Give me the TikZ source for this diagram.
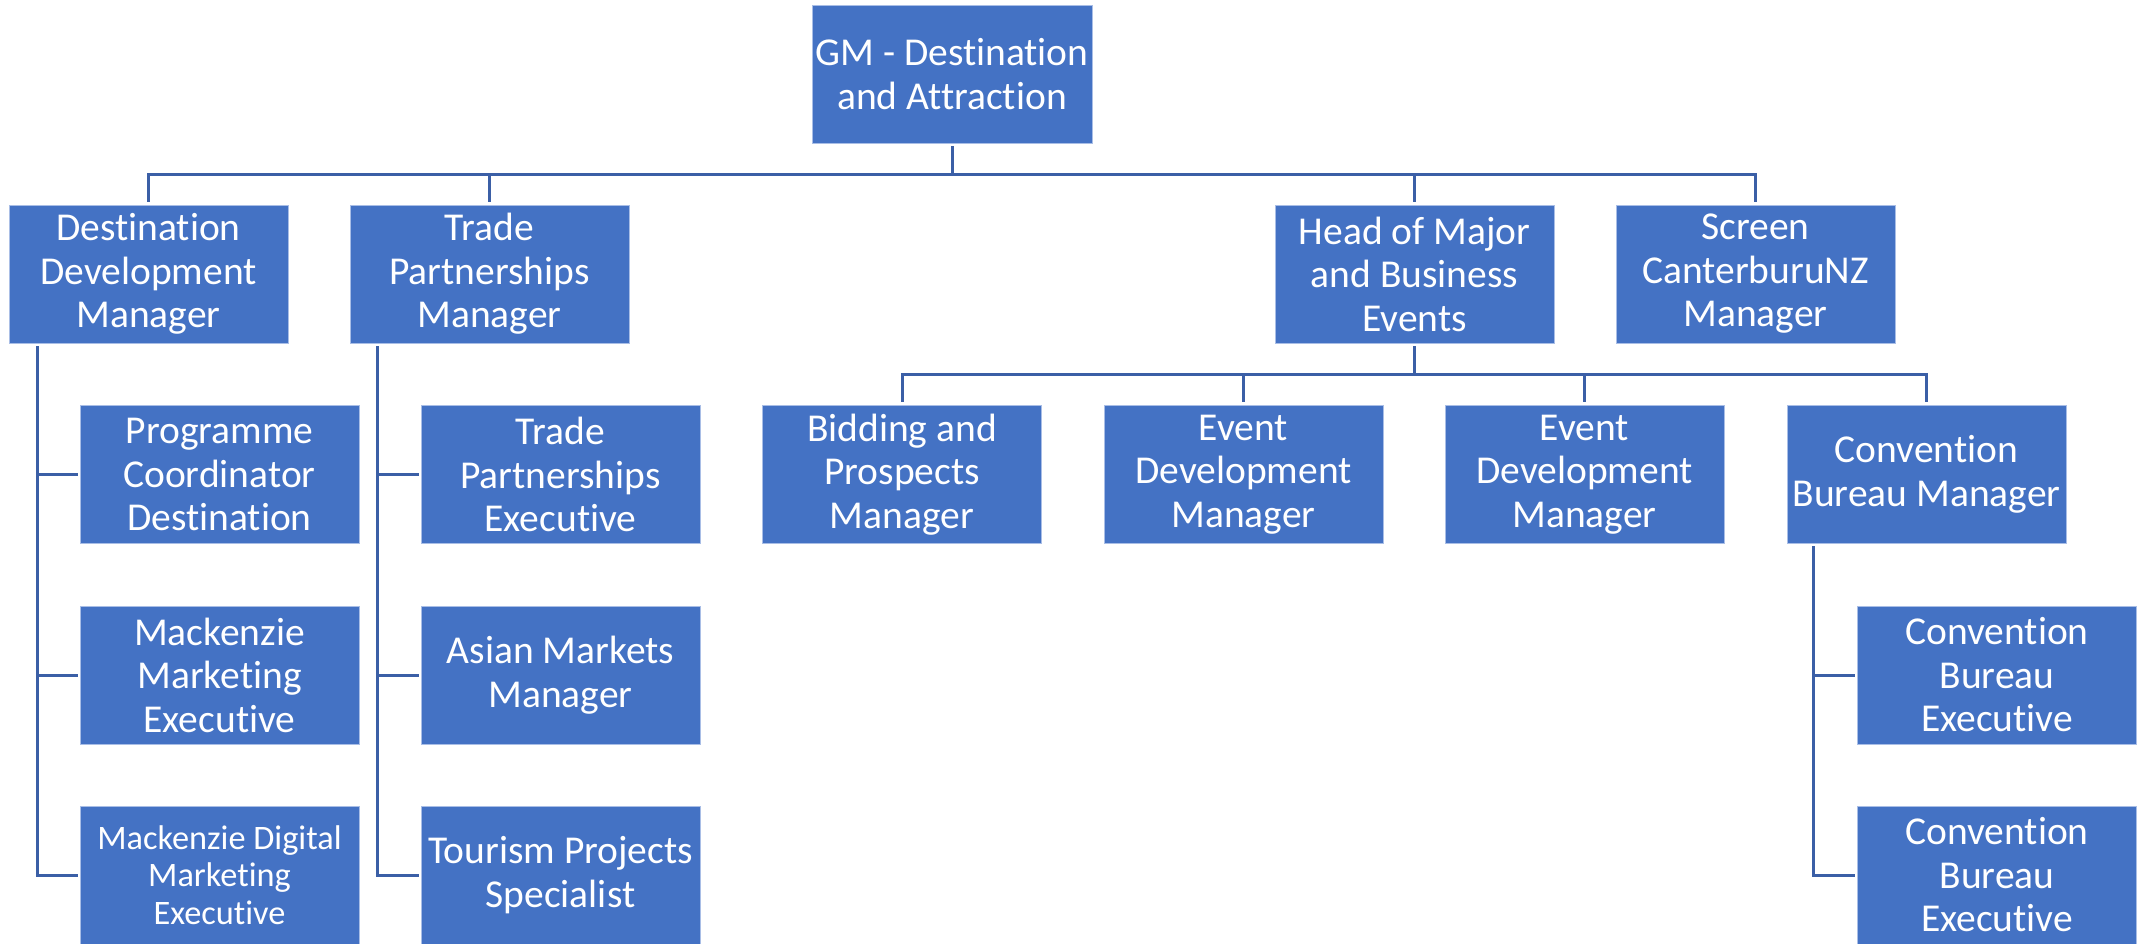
\documentclass[tikz,border=0pt]{standalone}
\usepackage{fontspec}
\setmainfont{Carlito}[Ligatures=NoCommon]
\definecolor{boxblue}{HTML}{4472C4}
\definecolor{boxedge}{HTML}{A9BEE6}
\definecolor{linkblue}{HTML}{3B5FA6}
\begin{document}
\begin{tikzpicture}[x=1pt,y=1pt,
  orgbox/.style={rectangle, fill=boxblue, draw=boxedge, line width=0.8pt,
    minimum width=279pt, minimum height=138pt, inner sep=0pt,
    align=center, text=white, font=\fontsize{39.5}{43.5}\selectfont},
  smallbox/.style={orgbox, font=\fontsize{34.3}{37.5}\selectfont},
  conn/.style={draw=linkblue, line width=3pt}]
\useasboundingbox (0,0) rectangle (2147,-943);
% top
\node[orgbox, minimum width=280pt] (gm) at (952,-74) {GM - Destination\\and Attraction};
% row 1
\node[orgbox] (ddm) at (148.5,-274) {Destination\\Development\\Manager};
\node[orgbox] (tpm) at (489.5,-274) {Trade\\Partnerships\\Manager};
\node[orgbox] (hmbe) at (1414.5,-274) {Head of Major\\and Business\\Events};
\node[orgbox] (scr) at (1755.5,-274) {Screen\\CanterburuNZ\\Manager};
% DDM children
\node[orgbox] (prog) at (219.5,-474.5) {Programme\\Coordinator\\Destination};
\node[orgbox] (mack) at (219.5,-675) {Mackenzie\\Marketing\\Executive};
\node[smallbox] (mdig) at (219.5,-875) {Mackenzie Digital\\Marketing\\Executive};
% TPM children
\node[orgbox] (tpe) at (560.5,-474.5) {Trade\\Partnerships\\Executive};
\node[orgbox] (asian) at (560.5,-675) {Asian Markets\\Manager};
\node[orgbox] (tour) at (560.5,-875) {Tourism Projects\\Specialist};
% HMBE children
\node[orgbox] (bid) at (902,-474.5) {Bidding and\\Prospects\\Manager};
\node[orgbox] (ed1) at (1243.5,-474.5) {Event\\Development\\Manager};
\node[orgbox] (ed2) at (1584.5,-474.5) {Event\\Development\\Manager};
\node[orgbox] (cbm) at (1926.5,-474.5) {Convention\\Bureau Manager};
% CBM children
\node[orgbox] (cbe1) at (1997,-675) {Convention\\Bureau\\Executive};
\node[orgbox] (cbe2) at (1997,-875) {Convention\\Bureau\\Executive};
% bars and spines
\coordinate (bar1) at (0,-174);
\coordinate (bar2) at (0,-374);
\coordinate (s1) at (37,-346);
\coordinate (s2) at (377,-346);
\coordinate (s3) at (1813,-546);
% connectors from GM
\foreach \c in {ddm,tpm,hmbe,scr}{
  \draw[conn] ([yshift=-3pt]gm.south) -- (gm.south |- bar1) -| ([yshift=3pt]\c.north);
}
% connectors from HMBE
\foreach \c in {bid,ed1,ed2,cbm}{
  \draw[conn] ([yshift=-3pt]hmbe.south) -- (hmbe.south |- bar2) -| ([yshift=3pt]\c.north);
}
% spines
\foreach \c in {prog,mack,mdig}{
  \draw[conn] (s1) |- ([xshift=-2pt]\c.west);
}
\foreach \c in {tpe,asian,tour}{
  \draw[conn] (s2) |- ([xshift=-2pt]\c.west);
}
\foreach \c in {cbe1,cbe2}{
  \draw[conn] (s3) |- ([xshift=-2pt]\c.west);
}
\end{tikzpicture}
\end{document}
